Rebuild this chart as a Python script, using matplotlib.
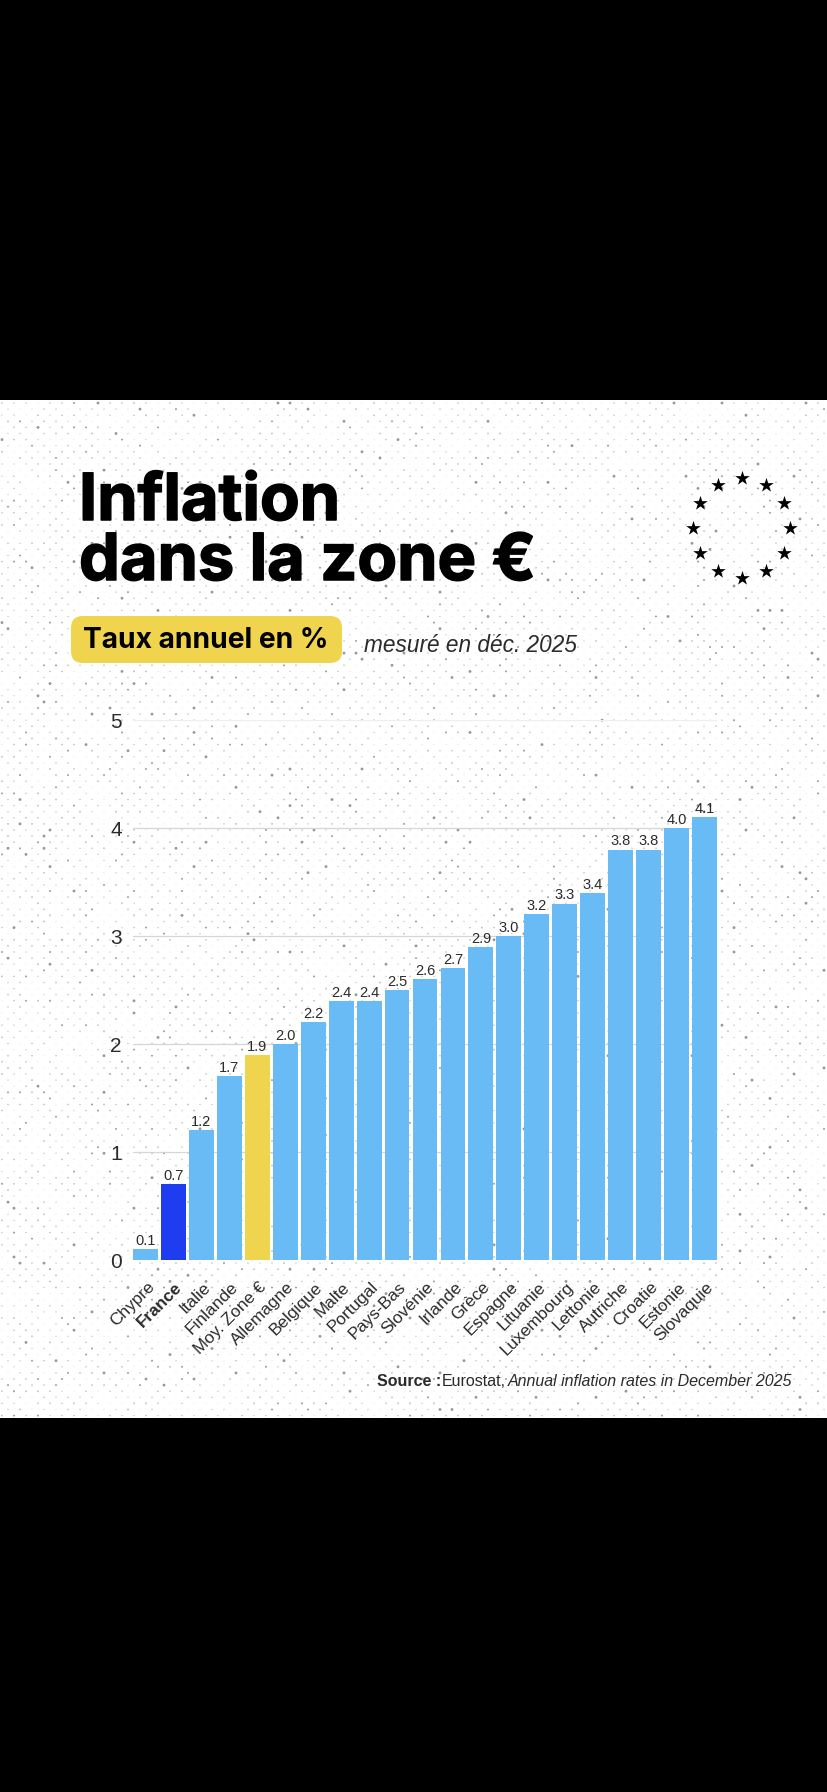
import numpy as np
import matplotlib
matplotlib.use("Agg")
import matplotlib.pyplot as plt
import matplotlib.patheffects as pe
from matplotlib.patches import FancyBboxPatch
from matplotlib.transforms import ScaledTranslation

countries = ["Chypre", "France", "Italie", "Finlande", "Moy. Zone €", "Allemagne", "Belgique",
             "Malte", "Portugal", "Pays-Bas", "Slovénie", "Irlande", "Grèce", "Espagne",
             "Lituanie", "Luxembourg", "Lettonie", "Autriche", "Croatie", "Estonie", "Slovaquie"]
rates = [0.1, 0.7, 1.2, 1.7, 1.9, 2.0, 2.2, 2.4, 2.4, 2.5, 2.6, 2.7, 2.9, 3.0, 3.2, 3.3, 3.4,
         3.8, 3.8, 4.0, 4.1]
y_ticks = [0, 1, 2, 3, 4, 5]

BLUE = "#69BBF5"
DARK = "#1F3DF0"
YELLOW = "#F0D44E"
TEXT = "#2b2b2b"
W, H = 828, 1792

plt.rcParams["font.family"] = ["Liberation Sans", "DejaVu Sans"]
fig = plt.figure(figsize=(W / 100, H / 100), dpi=100, facecolor="black")

# page background, in pixel coordinates
bg = fig.add_axes([0, 0, 1, 1])
bg.set_xlim(0, W)
bg.set_ylim(H, 0)
bg.axis("off")
bg.fill_between([0, W], 400, 1418.5, color="white", lw=0)

# dotted paper texture: staggered rows, dot size from a small hash of the position
xs, ys = np.meshgrid(np.arange(2, W, 12.0), np.arange(403, 1418, 6.1))
xs = xs + (np.arange(xs.shape[0])[:, None] % 2) * 6.0
noise = np.sin(xs * 12.9898 + ys * 78.233) * 43758.5453
noise = noise - np.floor(noise)
sizes = 0.7 + 1.4 * noise ** 2 + 2.2 * (noise > 0.97)
shades = np.where(noise < 0.25, 0.9, np.where(noise > 0.9, 0.6, 0.75))
bg.scatter(xs.ravel(), ys.ravel(), s=sizes.ravel(), c=shades.ravel(), cmap="gray", vmin=0, vmax=1, lw=0)

thick = [pe.withStroke(linewidth=1.1, foreground="black")]
bg.text(79, 520, "Inflation", fontsize=46.7, fontweight="bold", family=["Inter", "DejaVu Sans"],
        va="baseline", ha="left", color="black", path_effects=thick)
bg.text(79, 580, "dans la zone €", fontsize=46.7, fontweight="bold", family=["Inter", "DejaVu Sans"],
        va="baseline", ha="left", color="black", path_effects=thick)

bg.add_patch(FancyBboxPatch((71, 616), 271, 47, boxstyle="round,pad=0,rounding_size=12",
                            fc=YELLOW, ec="none"))
bg.text(83, 641, "Taux annuel en %", fontsize=20.3, fontweight="bold", family=["Inter", "DejaVu Sans"],
        va="center", ha="left", color="black")
bg.text(364, 645, "mesuré en déc. 2025", fontsize=16.3, style="italic", va="center", ha="left", color=TEXT)

# ring of stars
angles = np.deg2rad(np.arange(0, 360, 30))
bg.scatter(742 + 48.5 * np.cos(angles), 528 + 50 * np.sin(angles), marker="*", s=120, color="black", lw=0)

bg.text(377, 1382, "Source :", fontsize=11.5, fontweight="bold", va="center", ha="left", color=TEXT)
bg.text(442, 1382, "Eurostat,", fontsize=11.5, va="center", ha="left", color=TEXT)
bg.text(508, 1382, "Annual inflation rates in December 2025", fontsize=11.5, style="italic",
        va="center", ha="left", color=TEXT)

# bar chart
ax = fig.add_axes([133 / W, 1 - 1260 / H, 584 / W, 540 / H])
ax.patch.set_alpha(0)
x = np.arange(len(countries))
colors = [BLUE] * len(countries)
colors[1] = DARK
colors[4] = YELLOW
ax.bar(x, rates, width=0.89, color=colors, zorder=3)
ax.set_xlim(-0.445, len(countries) - 1 + 0.445)
ax.set_ylim(0, 5)
ax.set_yticks(y_ticks)
ax.set_yticklabels([str(v) for v in y_ticks], fontsize=15, color=TEXT)
ax.yaxis.grid(True, color="#d6d6d6", lw=0.9, zorder=0)
ax.get_ygridlines()[5].set_color("#efefef")
ax.tick_params(axis="both", length=0)
ax.tick_params(axis="y", pad=8)
for side in ax.spines.values():
    side.set_visible(False)

ax.set_xticks(x)
ax.set_xticklabels(countries, rotation=45, ha="right", rotation_mode="anchor", fontsize=12.4, color=TEXT)
ax.tick_params(axis="x", pad=14)
shift = ScaledTranslation(1 / 100, 0, fig.dpi_scale_trans)
for lab in ax.get_xticklabels():
    lab.set_transform(lab.get_transform() + shift)
ax.get_xticklabels()[1].set_fontweight("bold")

for v, px in zip(rates, x):
    ax.annotate(f"{v:.1f}", (px, v), xytext=(0, 3), textcoords="offset points", ha="center", va="baseline",
                fontsize=10.5, color=TEXT, zorder=4)

fig.savefig("out.png", dpi=100, facecolor="black")
